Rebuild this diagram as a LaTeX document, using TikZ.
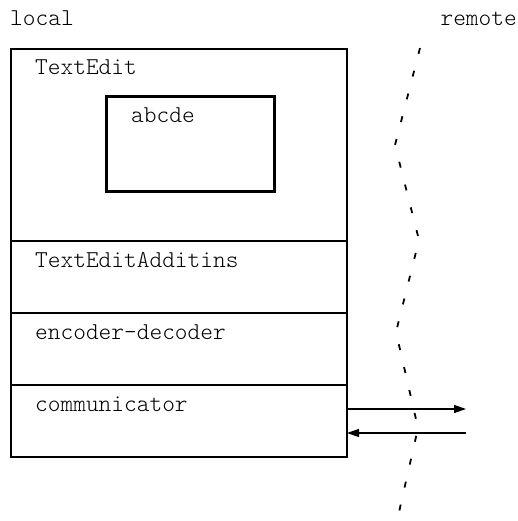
\documentclass[tikz,border=0pt]{standalone}
\usepackage{fontspec}
\setmonofont{Latin Modern Mono Light}
\usetikzlibrary{positioning, arrows.meta}

\tikzset{
    monotext/.style={inner sep=0pt, anchor=base west, font=\ttfamily\fontsize{24.2}{28}\selectfont},
    layerline/.style={line width=1.3pt},
    msgarrow/.style={line width=1.3pt, -{Triangle[length=12pt, width=8pt]}}
}

\begin{document}
\begin{tikzpicture}[x=1pt, y=-1pt]
        \useasboundingbox (0,0) rectangle (518,521);

        % sides
        \node[monotext] (local) at (10,26) {local};
        \node[monotext, anchor=base east] (remote) at (517,26) {remote};

        % local stack
        \draw[layerline] (11,49) rectangle (347,457);
        \draw[layerline] (11,241) -- (347,241);
        \draw[layerline] (11,313) -- (347,313);
        \draw[layerline] (11,385) -- (347,385);

        % text edit with its window
        \node[monotext] (textedit) at (35,75) {TextEdit};
        \draw[line width=3pt] (106,97) rectangle (274,192);
        \node[monotext] (abcde) at (131,123) {abcde};

        % lower layers
        \node[monotext] (additins) at (35,267) {TextEditAdditins};
        \node[monotext] (codec) at (35,339) {encoder-decoder};
        \node[monotext] (comm) at (35,411) {communicator};

        % messages to and from remote
        \coordinate (commout) at (347,409);
        \coordinate (remin) at (466,409);
        \coordinate (remout) at (466,433);
        \coordinate (commin) at (347,433);
        \draw[msgarrow] (commout) -- (remin);
        \draw[msgarrow] (remout) -- (commin);

        % network boundary
        \draw[line width=1.8pt, dash pattern=on 6pt off 17.5pt]
            (420,48) -- (395,145) -- (419,240) -- (396,332) -- (418,428) -- (397,521);

%        \draw[help lines, step=10] (0,0) grid (518,521);
    \end{tikzpicture}
\end{document}
